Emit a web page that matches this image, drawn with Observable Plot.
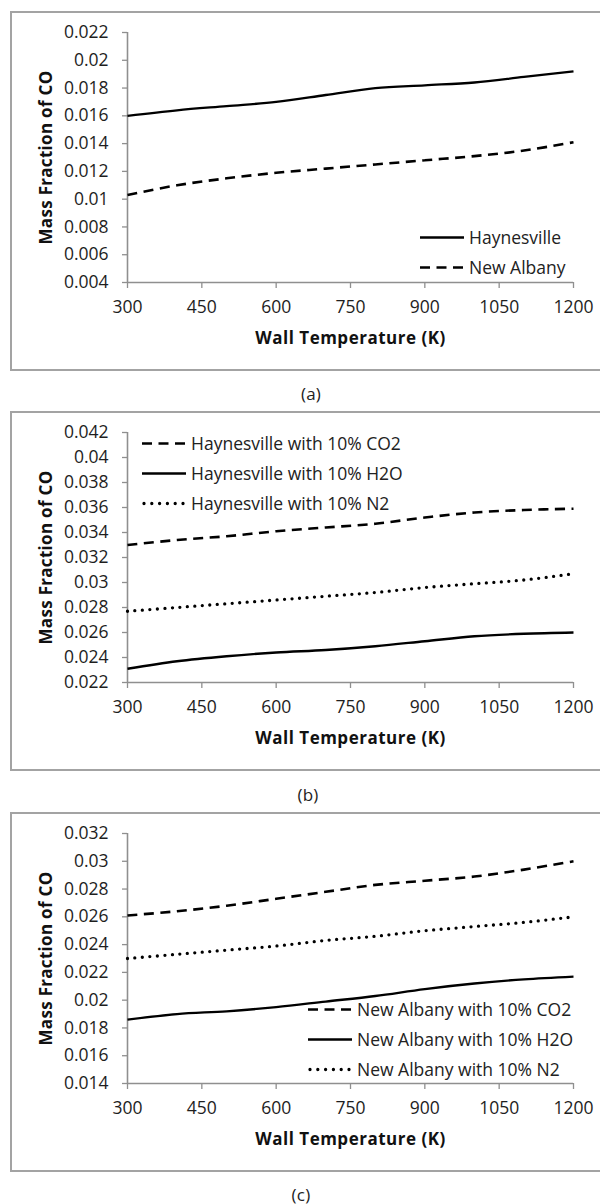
<!DOCTYPE html>
<html>
<head>
<meta charset="utf-8">
<script src="https://cdn.jsdelivr.net/npm/d3@7"></script>
<script src="https://cdn.jsdelivr.net/npm/@observablehq/plot@0.6"></script>
<style>
  body { margin: 0; background: #fff; font-family: "Open Sans", sans-serif; }
  #root { position: relative; width: 600px; height: 1204px; overflow: hidden; background: #fff; }
  .frame { position: absolute; left: 10px; width: 620px; border: 2px solid #a3a3a3; box-sizing: border-box; }
  .caption { position: absolute; font-size: 17px; line-height: 1; letter-spacing: .2px; color: #222; transform: translate(-50%, -50%); white-space: nowrap; }
  .plotwrap { position: absolute; left: 0; width: 600px; }
  .plotwrap svg { display: block; }
  .row { position: absolute; display: flex; align-items: center; white-space: nowrap; transform: translateY(-50%); font-size: 17.5px; line-height: 1.2; color: #222; }
  .row svg { display: block; margin-right: 5px; }
</style>
</head>
<body>
<div id="root"></div>
<script>
// ---------- data ----------
const temps = [300, 400, 500, 600, 700, 800, 900, 1000, 1100, 1200];
const xTicks = [300, 450, 600, 750, 900, 1050, 1200];

// (a)
const namesA = ["Haynesville", "New Albany"];
const haynesville = [0.0160, 0.0164, 0.0167, 0.0170, 0.0175, 0.0180, 0.0182, 0.0184, 0.0188, 0.0192];
const newAlbany   = [0.0103, 0.0110, 0.0115, 0.0119, 0.0122, 0.0125, 0.0128, 0.0131, 0.0135, 0.0141];
const yTicksA = [0.004, 0.006, 0.008, 0.010, 0.012, 0.014, 0.016, 0.018, 0.020, 0.022];

// (b)
const namesB = ["Haynesville with 10% CO2", "Haynesville with 10% H2O", "Haynesville with 10% N2"];
const hayCO2 = [0.0330, 0.0334, 0.0337, 0.0341, 0.0344, 0.0347, 0.0352, 0.0356, 0.0358, 0.0359];
const hayH2O = [0.0231, 0.0237, 0.0241, 0.0244, 0.0246, 0.0249, 0.0253, 0.0257, 0.0259, 0.0260];
const hayN2  = [0.0277, 0.0280, 0.0283, 0.0286, 0.0289, 0.0292, 0.0296, 0.0299, 0.0302, 0.0307];
const yTicksB = [0.022, 0.024, 0.026, 0.028, 0.030, 0.032, 0.034, 0.036, 0.038, 0.040, 0.042];

// (c)
const namesC = ["New Albany with 10% CO2", "New Albany with 10% H2O", "New Albany with 10% N2"];
const naCO2 = [0.0261, 0.0264, 0.0268, 0.0273, 0.0278, 0.0283, 0.0286, 0.0289, 0.0294, 0.0300];
const naH2O = [0.0186, 0.0190, 0.0192, 0.0195, 0.0199, 0.0203, 0.0208, 0.0212, 0.0215, 0.0217];
const naN2  = [0.0230, 0.0233, 0.0236, 0.0239, 0.0243, 0.0246, 0.0250, 0.0253, 0.0256, 0.0260];
const yTicksC = [0.014, 0.016, 0.018, 0.020, 0.022, 0.024, 0.026, 0.028, 0.030, 0.032];

const xTitle = "Wall Temperature (K)";
const yTitle = "Mass Fraction of CO";
const captions = ["(a)", "(b)", "(c)"];

// ---------- styles & layout ----------
const lineStyles = {
  solid:  { strokeWidth: 2.3, dash: null, cap: "butt" },
  dashed: { strokeWidth: 2.6, dash: "10,6.5", cap: "butt" },
  dotted: { strokeWidth: 3.3, dash: "0,7.5", cap: "round" }
};
const AXIS = "#8f8f8f";
const TEXT = "#1e1e1e";

const panels = [
  { frameTop: 11.7, captionX: 311, captionY: 393, yTicks: yTicksA,
    series: [[namesA[0], haynesville, "solid"], [namesA[1], newAlbany, "dashed"]],
    legend: { swatchX: 420, rows: [237, 267] } },
  { frameTop: 411.7, captionX: 308, captionY: 794, yTicks: yTicksB,
    series: [[namesB[0], hayCO2, "dashed"], [namesB[1], hayH2O, "solid"], [namesB[2], hayN2, "dotted"]],
    legend: { swatchX: 142, rows: [443, 473, 503] } },
  { frameTop: 813.3, captionX: 301, captionY: 1194, yTicks: yTicksC,
    series: [[namesC[0], naCO2, "dashed"], [namesC[1], naH2O, "solid"], [namesC[2], naN2, "dotted"]],
    legend: { swatchX: 308, rows: [1009, 1039, 1069] } }
];

const root = document.getElementById("root");
const fmtY = d => String(+d.toFixed(3));
const fmtX = d => String(d);

panels.forEach((p, i) => {
  const frame = document.createElement("div");
  frame.className = "frame";
  frame.style.top = (p.frameTop - 1) + "px";
  frame.style.height = "360px";
  root.appendChild(frame);

  const lineMarks = p.series.map(([name, vals, kind]) => {
    const rows = temps.map((T, j) => ({ T, v: vals[j], name }));
    const st = lineStyles[kind];
    const opts = { x: "T", y: "v", stroke: "#000", strokeWidth: st.strokeWidth, strokeLinecap: st.cap, curve: "catmull-rom" };
    if (st.dash) opts.strokeDasharray = st.dash;
    return Plot.line(rows, opts);
  });

  const svg = Plot.plot({
    width: 600, height: 358,
    marginTop: 20, marginBottom: 88, marginLeft: 127, marginRight: 27,
    style: { fontFamily: "'Open Sans', sans-serif", fontSize: "17.5px", color: TEXT, background: "transparent", overflow: "visible" },
    x: { domain: [xTicks[0], xTicks[xTicks.length - 1]] },
    y: { domain: [p.yTicks[0], p.yTicks[p.yTicks.length - 1]] },
    marks: [
      Plot.axisX({ ticks: xTicks, tickSize: 6, tickPadding: 12, tickFormat: fmtX, label: null, stroke: AXIS, fill: TEXT, strokeWidth: 1.3 }),
      Plot.axisY({ ticks: p.yTicks, tickSize: 5, tickPadding: 14, tickFormat: fmtY, label: null, stroke: AXIS, fill: TEXT, strokeWidth: 1.3 }),
      Plot.ruleX([xTicks[0]], { stroke: AXIS, strokeWidth: 1.6 }),
      Plot.ruleY([p.yTicks[0]], { stroke: AXIS, strokeWidth: 1.6 }),
      ...lineMarks,
      Plot.text([xTitle], { frameAnchor: "bottom", dy: 56, text: d => d, fontWeight: "bold", fontSize: 17, fill: "#111", lineAnchor: "middle" }),
      Plot.text([yTitle], { frameAnchor: "left", dx: -81, rotate: -90, text: d => d, fontWeight: "bold", fontSize: 17, fill: "#111", lineAnchor: "middle", textAnchor: "middle" })
    ]
  });
  d3.select(svg).selectAll('g[aria-label="text"] text').each(function () {
    this.style.letterSpacing = this.textContent === xTitle ? "0.5px" : "0.3px";
  });
  const wrap = document.createElement("div");
  wrap.className = "plotwrap";
  wrap.style.top = p.frameTop + "px";
  wrap.appendChild(svg);
  root.appendChild(wrap);

  p.series.forEach(([name, , kind], k) => {
    const st = lineStyles[kind];
    const row = document.createElement("div");
    row.className = "row";
    row.style.left = p.legend.swatchX + "px";
    row.style.top = p.legend.rows[k] + "px";
    const sw = kind === "dotted"
      ? `<line x1="2" x2="42" y1="3" y2="3" stroke="#000" stroke-width="${st.strokeWidth}" stroke-linecap="round" stroke-dasharray="0,7.8"/>`
      : `<line x1="0" x2="44" y1="3" y2="3" stroke="#000" stroke-width="${st.strokeWidth}" ${st.dash ? `stroke-dasharray="${st.dash}"` : ""}/>`;
    row.innerHTML = `<svg width="44" height="6">${sw}</svg><span>${name}</span>`;
    root.appendChild(row);
  });

  const cap = document.createElement("div");
  cap.className = "caption";
  cap.style.left = p.captionX + "px";
  cap.style.top = p.captionY + "px";
  cap.textContent = captions[i];
  root.appendChild(cap);
});
</script>
</body>
</html>
